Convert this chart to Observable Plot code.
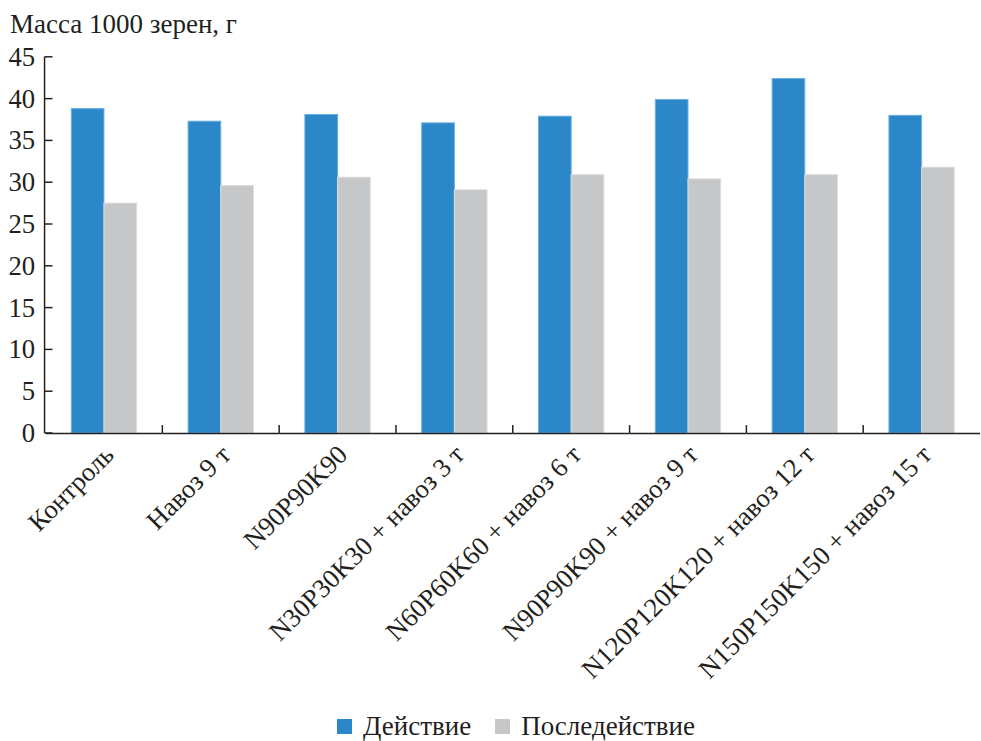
<!DOCTYPE html>
<html><head><meta charset="utf-8">
<script src="https://cdn.jsdelivr.net/npm/d3@7"></script>
<script src="https://cdn.jsdelivr.net/npm/@observablehq/plot@0.6"></script>
<style>
body{margin:0;background:#fff;}
#wrap{position:relative;width:981px;height:741px;overflow:hidden;font-family:'Liberation Serif','Times New Roman',serif;color:#231f20;}
#title{position:absolute;left:10px;top:11px;font-size:27px;line-height:27px;white-space:nowrap;}
#chart{position:absolute;left:0;top:40px;}
#legend{position:absolute;top:713px;left:337px;font-size:27px;line-height:27px;display:flex;align-items:center;white-space:nowrap;}
#legend .sw{display:inline-block;width:15px;height:15px;margin-right:11px;}
#legend .item{display:flex;align-items:center;margin-right:24px;}
</style></head><body>
<div id="wrap"><div id="title"></div><div id="chart"></div><div id="legend"></div></div>
<script>
const titleText = "Масса 1000 зерен, г";
const categories = ["Контроль", "Навоз 9 т", "N90P90K90", "N30P30K30 + навоз 3 т", "N60P60K60 + навоз 6 т", "N90P90K90 + навоз 9 т", "N120P120K120 + навоз 12 т", "N150P150K150 + навоз 15 т"];
const seriesNames = ["Действие", "Последействие"];
const actionValues = [38.8, 37.3, 38.1, 37.1, 37.9, 39.9, 42.4, 38.0];
const afterValues = [27.5, 29.6, 30.6, 29.1, 30.9, 30.4, 30.9, 31.8];
const yTicks = [0, 5, 10, 15, 20, 25, 30, 35, 40, 45];
const colors = ["#2b87c8", "#c6c7c9"];
const edges = ["#6aaee0", "#dcdcde"];
const ink = "#231f20";
const serif = "'Liberation Serif','Times New Roman',serif";

document.getElementById("title").textContent = titleText;

const data = categories.flatMap((c, i) => [
  {category: c, series: seriesNames[0], value: actionValues[i]},
  {category: c, series: seriesNames[1], value: afterValues[i]}
]);

const plot = Plot.plot({
  width: 991, height: 660,
  marginLeft: 45, marginRight: 0, marginTop: 17, marginBottom: 263,
  style: {fontFamily: serif, fontSize: "27px", color: ink, background: "transparent", overflow: "visible"},
  fx: {domain: categories, padding: 0, label: null},
  x: {domain: seriesNames, paddingInner: 0, paddingOuter: 0.76, axis: null},
  y: {domain: [0, 45], label: null},
  marks: [
    Plot.barY(data.filter(d => d.series === seriesNames[0]), {fx: "category", x: "series", y: "value", fill: colors[0], stroke: edges[0], strokeWidth: 1}),
    Plot.barY(data.filter(d => d.series === seriesNames[1]), {fx: "category", x: "series", y: "value", fill: colors[1], stroke: edges[1], strokeWidth: 1}),
    Plot.ruleY([0], {stroke: ink, strokeWidth: 1.5}),
    Plot.axisY({ticks: yTicks, tickSize: 0, tickPadding: 11, tickFormat: d => String(d), label: null, fontSize: 27, color: ink}),
    Plot.axisFx({anchor: "bottom", tickSize: 0, tickRotate: -45, tickPadding: 17, dx: 5, label: null, fontSize: 27, color: ink})
  ]
});

// axis line and boundary ticks derived from the scales
const fx = plot.scale("fx"), y = plot.scale("y");
const svg = d3.select(plot);
svg.selectAll("text").attr("font-family", serif);
const y0 = y.apply(0), yTop = y.apply(yTicks[yTicks.length - 1]);
const x0 = fx.range[0];
const g = svg.append("g").attr("stroke", ink).attr("stroke-width", 1.5);
g.append("line").attr("x1", x0).attr("x2", x0).attr("y1", yTop).attr("y2", y0);
yTicks.forEach(t => {
  g.append("line").attr("x1", x0).attr("x2", x0 + 8).attr("y1", y.apply(t)).attr("y2", y.apply(t));
});
categories.slice(1).forEach(c => {
  const bx = fx.apply(c);
  g.append("line").attr("x1", bx).attr("x2", bx).attr("y1", y0).attr("y2", y0 - 8);
});

document.getElementById("chart").appendChild(plot);

const legend = document.getElementById("legend");
seriesNames.forEach((s, i) => {
  const item = document.createElement("span");
  item.className = "item";
  const sw = document.createElement("span");
  sw.className = "sw";
  sw.style.background = colors[i];
  item.appendChild(sw);
  item.appendChild(document.createTextNode(s));
  legend.appendChild(item);
});
</script>
</body></html>
